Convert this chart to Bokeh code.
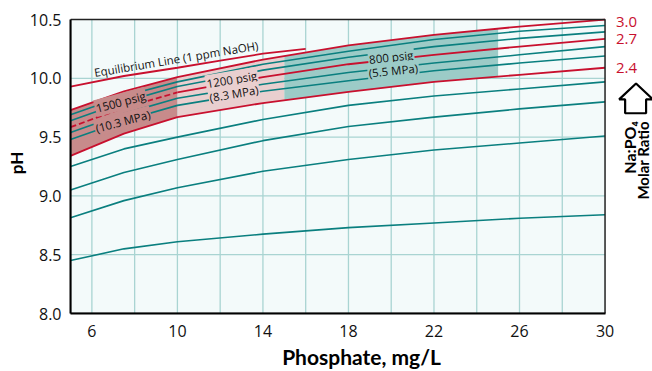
import numpy as np
from bokeh.plotting import figure
from bokeh.models import FixedTicker, Label, PolyAnnotation, NumeralTickFormatter
from bokeh.embed import file_html
from bokeh.resources import INLINE

# ---------------- data ----------------
phosphate = [5, 7.5, 10, 14, 18, 22, 26, 30]

ratio_3_0 = [9.73, 9.89, 10.01, 10.16, 10.28, 10.37, 10.44, 10.50]
teal_a    = [9.69, 9.85, 9.97, 10.12, 10.23, 10.33, 10.40, 10.45]
teal_b    = [9.64, 9.80, 9.93, 10.07, 10.18, 10.27, 10.34, 10.395]
ratio_2_7 = [9.585, 9.75, 9.88, 10.01, 10.12, 10.20, 10.27, 10.335]
teal_c    = [9.54, 9.70, 9.83, 9.95, 10.05, 10.13, 10.20, 10.27]
teal_d    = [9.48, 9.64, 9.77, 9.89, 9.98, 10.065, 10.13, 10.19]
ratio_2_4 = [9.34, 9.53, 9.67, 9.79, 9.885, 9.97, 10.03, 10.09]
teal_e    = [9.25, 9.40, 9.50, 9.65, 9.77, 9.85, 9.91, 9.97]
teal_f    = [9.05, 9.20, 9.31, 9.47, 9.59, 9.67, 9.74, 9.80]
teal_g    = [8.815, 8.96, 9.07, 9.21, 9.31, 9.39, 9.45, 9.51]
teal_h    = [8.45, 8.55, 8.61, 8.675, 8.73, 8.77, 8.81, 8.84]

equilibrium_x  = [5, 7.5, 10, 12, 14, 16]
equilibrium_ph = [9.93, 10.02, 10.09, 10.15, 10.21, 10.25]

# pressure bands (phosphate start, end)
band_1500 = (5, 10)
band_1200 = (10, 15)
band_800 = (15, 25)

x_min, x_max = 5, 30
y_min, y_max = 8.0, 10.5
x_ticks = [6, 10, 14, 18, 22, 26, 30]
x_grid = [6, 8, 10, 12, 14, 16, 18, 20, 22, 24, 26, 28]
y_ticks = [8.0, 8.5, 9.0, 9.5, 10.0, 10.5]
y_grid = [8.5, 9.0, 9.5, 10.0]

ratio_labels = ["3.0", "2.7", "2.4"]

# ---------------- styling ----------------
RED = "#c8102e"
TEAL = "#0a7f7f"
PINK_DARK = "#c78b8b"
PINK_LIGHT = "#e9cfcf"
TEAL_FILL = "#9ccbc7"
TICK_FONT = "Open Sans"
TITLE_FONT = "Lato"

# frame extends to the right edge of the canvas so the ratio key can be drawn there
p = figure(width=652, height=371, x_range=(x_min, 32.22), y_range=(y_min, 10.56),
           output_backend="svg", toolbar_location=None,
           min_border_left=70, min_border_right=0,
           min_border_top=12, min_border_bottom=55)

p.background_fill_color = "white"
p.border_fill_color = "white"
p.outline_line_color = None
p.xgrid.visible = False
p.ygrid.visible = False

p.xaxis.ticker = FixedTicker(ticks=x_ticks)
p.yaxis.ticker = FixedTicker(ticks=y_ticks)
p.xaxis.bounds = (x_min, x_max)
p.yaxis.bounds = (y_min, y_max)
p.yaxis.formatter = NumeralTickFormatter(format="0.0")
for ax in (p.xaxis, p.yaxis):
    ax.axis_line_color = "black"
    ax.axis_line_width = 2
    ax.major_tick_line_color = None
    ax.minor_tick_line_color = None
    ax.major_label_text_font = TICK_FONT
    ax.major_label_text_font_size = "16px"
    ax.major_label_text_color = "#111111"
    ax.axis_label_text_font = TITLE_FONT
    ax.axis_label_text_font_style = "bold"
    ax.axis_label_text_color = "black"
p.xaxis.major_label_standoff = 5
p.yaxis.major_label_standoff = 3
p.xaxis.axis_label = "Phosphate, mg/L"
p.xaxis.axis_label_text_font_size = "21px"
p.xaxis.axis_label_standoff = 4
p.yaxis.axis_label = "pH"
p.yaxis.axis_label_text_font_size = "17px"
p.yaxis.axis_label_standoff = 0

# plot area background and grid
p.quad(left=x_min, right=x_max, bottom=y_min, top=y_max, fill_color="#f3fafa", line_color=None)
p.segment(x0=x_grid, x1=x_grid, y0=[y_min] * len(x_grid), y1=[y_max] * len(x_grid),
          line_color="#a9d4d2", line_width=1.3)
p.segment(x0=[x_min] * len(y_grid), x1=[x_max] * len(y_grid), y0=y_grid, y1=y_grid,
          line_color="#a9d4d2", line_width=1.3)

# ---------------- shaded pressure bands ----------------
for (a, b), col in ((band_1500, PINK_DARK), (band_1200, PINK_LIGHT), (band_800, TEAL_FILL)):
    xs = [a] + [x for x in phosphate if a < x < b] + [b]
    lo = np.interp(xs, phosphate, ratio_2_4)
    hi = np.interp(xs, phosphate, ratio_3_0)
    p.varea(x=xs, y1=lo, y2=hi, fill_color=col)

# ---------------- curves ----------------
for ys in (teal_a, teal_b, teal_c, teal_d, teal_e, teal_f, teal_g, teal_h):
    p.line(phosphate, ys, line_color=TEAL, line_width=1.6)

p.line(phosphate, ratio_3_0, line_color=RED, line_width=1.8)
p.line(phosphate, ratio_2_4, line_color=RED, line_width=1.8)
p.line(phosphate[:3], ratio_2_7[:3], line_color=RED, line_width=1.8, line_dash="6 3")
p.line(phosphate[2:], ratio_2_7[2:], line_color=RED, line_width=1.8)
p.line(equilibrium_x, equilibrium_ph, line_color=RED, line_width=1.8)

# plot border
p.quad(left=x_min, right=x_max, bottom=y_min, top=y_max, fill_color=None,
       line_color="#222222", line_width=1.5)

# ---------------- in-plot labels ----------------
def lab(x, y, text, deg, bg=None, size="11.5px"):
    kw = dict(x=x, y=y, text=text, angle=np.deg2rad(deg), text_align="center",
              text_baseline="middle", text_font=TICK_FONT, text_font_size=size,
              text_color="#111111")
    if bg is not None:
        kw.update(background_fill_color=bg, background_fill_alpha=1.0, padding=1)
    p.add_layout(Label(**kw))

lab(9.95, 10.165, "Equilibrium Line (1 ppm NaOH)", 9.5)
lab(7.35, 9.80, "1500 psig", 15, PINK_DARK)
lab(7.45, 9.635, "(10.3 MPa)", 15, PINK_DARK)
lab(12.55, 9.99, "1200 psig", 9.5, PINK_LIGHT)
lab(12.65, 9.87, "(8.3 MPa)", 9.5, PINK_LIGHT)
lab(20.0, 10.18, "800 psig", 6, TEAL_FILL)
lab(20.1, 10.066, "(5.5 MPa)", 6, TEAL_FILL)

# ---------------- right side: ratio labels, arrow, title ----------------
x_end = phosphate[-1]
for t, yv, dy in zip(ratio_labels, (ratio_3_0[-1], ratio_2_7[-1], ratio_2_4[-1]), (-2, 0, 0)):
    p.add_layout(Label(x=x_end, y=yv, x_offset=11, y_offset=dy, text=t,
                       text_baseline="middle", text_align="left",
                       text_font=TICK_FONT, text_font_size="15px", text_color=RED))

ax0 = x_end + 0.66
arrow_xs = [ax0 + 0.79, ax0, ax0 + 0.28, ax0 + 0.28, ax0 + 1.26, ax0 + 1.26, ax0 + 1.58]
arrow_ys = [9.956, 9.821, 9.821, 9.703, 9.703, 9.821, 9.821]
p.add_layout(PolyAnnotation(xs=arrow_xs, ys=arrow_ys, fill_color="white", fill_alpha=1,
                            line_color="black", line_alpha=1, line_width=2.2))

p.add_layout(Label(x=x_end + 1.13, y=9.636, text="Na:PO\u2084", angle=np.pi / 2,
                   text_align="right", text_baseline="middle", text_font=TITLE_FONT,
                   text_font_style="bold", text_font_size="16px", text_color="black"))
p.add_layout(Label(x=x_end + 1.78, y=9.636, text="Molar Ratio", angle=np.pi / 2,
                   text_align="right", text_baseline="middle", text_font=TITLE_FONT,
                   text_font_style="bold", text_font_size="15px", text_color="black"))

open("out.html", "w").write(file_html(p, INLINE))
